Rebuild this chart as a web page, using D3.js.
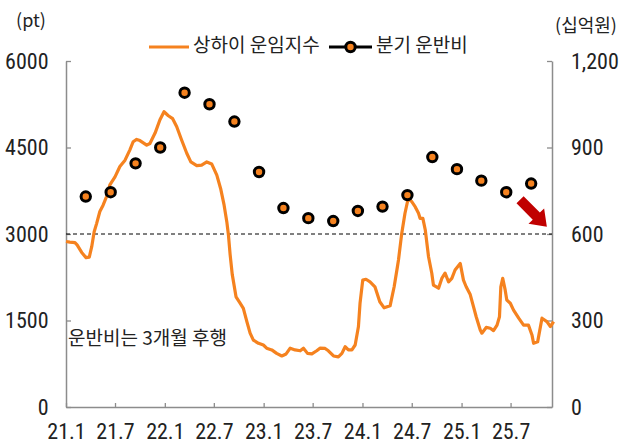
<!DOCTYPE html>
<html>
<head>
<meta charset="utf-8">
<script src="https://cdn.jsdelivr.net/npm/d3@7"></script>
<style>
  body { margin: 0; background: #fff; }
  .num { font-family: 'Liberation Sans Narrow', 'Arial Narrow', 'Roboto Condensed', 'DejaVu Sans Condensed', sans-serif; font-size: 22px; fill: #222; }
  .kr { font-family: 'Noto Sans CJK KR', 'Noto Sans', sans-serif; fill: #222; }
</style>
</head>
<body>
<svg id="chart" width="619" height="446"></svg>
<script>
// 상하이 운임지수 (SCFI), pt
var scfiDates = ['2021-01-01','2021-01-15','2021-02-03','2021-02-11','2021-02-28','2021-03-16','2021-03-28','2021-04-06','2021-04-15','2021-04-24',
  '2021-05-06','2021-05-18','2021-05-31','2021-06-12','2021-07-01','2021-07-19','2021-08-07','2021-08-25','2021-09-06','2021-09-19',
  '2021-10-01','2021-10-26','2021-11-07','2021-11-26','2021-12-14','2021-12-29','2022-01-14','2022-01-30','2022-02-14','2022-03-04',
  '2022-03-23','2022-04-07','2022-04-29','2022-05-17','2022-06-05','2022-06-23','2022-07-12','2022-07-26','2022-08-08','2022-08-18',
  '2022-08-24','2022-08-30','2022-09-07','2022-09-21','2022-10-06','2022-10-18','2022-10-31','2022-11-12','2022-11-24','2022-12-13',
  '2022-12-31','2023-01-12','2023-01-31','2023-02-18','2023-03-09','2023-03-25','2023-04-09','2023-04-27','2023-05-16','2023-05-28',
  '2023-06-12','2023-06-28','2023-07-16','2023-07-28','2023-08-16','2023-08-28','2023-09-16','2023-10-04','2023-10-17','2023-10-29',
  '2023-11-10','2023-11-23','2023-12-05','2023-12-17','2023-12-23','2024-01-02','2024-01-14','2024-01-29','2024-02-16','2024-03-05',
  '2024-03-21','2024-04-12','2024-04-27','2024-05-09','2024-05-13','2024-05-25','2024-06-06','2024-06-18','2024-07-01','2024-07-14',
  '2024-07-26','2024-08-01','2024-08-11','2024-08-20','2024-09-01','2024-09-13','2024-09-19','2024-10-08','2024-10-20','2024-11-01',
  '2024-11-14','2024-11-26','2024-12-08','2024-12-27','2025-01-08','2025-01-18','2025-02-02','2025-02-14','2025-02-24','2025-03-11',
  '2025-03-17','2025-04-02','2025-04-17','2025-04-29','2025-05-12','2025-05-21','2025-05-26','2025-06-02','2025-06-11','2025-06-17',
  '2025-06-30','2025-07-12','2025-07-31','2025-08-18','2025-09-05','2025-09-18','2025-09-24','2025-10-09','2025-10-25','2025-11-12',
  '2025-11-25','2025-12-07'];
var scfiValues = [2870,2860,2850,2810,2680,2590,2600,2780,3040,3180,
  3390,3500,3650,3850,3990,4170,4280,4460,4600,4640,
  4620,4540,4570,4750,4980,5120,5050,5000,4860,4630,
  4400,4250,4185,4195,4250,4215,4020,3790,3500,3210,
  2980,2650,2300,1910,1800,1710,1480,1280,1160,1105,
  1075,1020,990,930,885,920,1020,990,975,1020,
  930,920,975,1020,1015,975,885,870,930,1045,
  990,990,1075,1390,1800,2200,2215,2170,2085,1825,
  1720,1755,2085,2430,2550,3010,3360,3620,3560,3470,
  3360,3270,3270,3070,2605,2320,2115,2060,2230,2320,
  2170,2230,2375,2490,2200,2085,1950,1740,1565,1335,
  1280,1380,1365,1325,1420,1565,2085,2230,2030,1855,
  1800,1680,1540,1420,1420,1250,1105,1130,1540,1480,
  1395,1480];

// 분기 운반비 (십억원), plotted at quarter-end month
var quarters = ['21.1Q','21.2Q','21.3Q','21.4Q','22.1Q','22.2Q','22.3Q','22.4Q','23.1Q','23.2Q',
  '23.3Q','23.4Q','24.1Q','24.2Q','24.3Q','24.4Q','25.1Q','25.2Q','25.3Q'];
var costValues = [730,745,845,900,1090,1050,990,815,690,655,645,680,695,735,867,825,785,745,775];

var xTickLabels = ['21.1','21.7','22.1','22.7','23.1','23.7','24.1','24.7','25.1','25.7'];
var leftTicks = [0,1500,3000,4500,6000];
var rightTicks = [0,300,600,900,1200];

var ORANGE = '#F5821F', AXIS = '#8c8c8c';
var svg = d3.select('#chart');
var parseDay = d3.timeParse('%Y-%m-%d');

var scfi = scfiDates.map(function(d, i) { return { date: parseDay(d), value: scfiValues[i] }; });
var cost = quarters.map(function(q, i) {
  var yr = 2000 + +q.slice(0, 2), qn = +q.charAt(3);
  return { date: new Date(yr, qn * 3 - 1, 15), value: costValues[i] };
});

var x = d3.scaleTime().domain([new Date(2021, 0, 1), new Date(2025, 11, 1)]).range([66, 552]);
var yL = d3.scaleLinear().domain([0, 6000]).range([407, 61]);
var yR = d3.scaleLinear().domain([0, 1200]).range([407, 61]);

// axes
var xAxis = d3.axisBottom(x)
  .tickValues(xTickLabels.map(function(t) { var p = t.split('.'); return new Date(2000 + +p[0], +p[1] - 1, 1); }))
  .tickFormat(function(d, i) { return xTickLabels[i]; })
  .tickSize(-4).tickSizeOuter(0).tickPadding(16.5);
var lAxis = d3.axisLeft(yL).tickValues(leftTicks).tickFormat(d3.format('d'))
  .tickSize(-5).tickSizeOuter(0).tickPadding(17.5);
var rAxis = d3.axisRight(yR).tickValues(rightTicks).tickFormat(d3.format(','))
  .tickSize(-5).tickSizeOuter(0).tickPadding(19);

function styleAxis(g) {
  g.select('.domain').attr('stroke', AXIS).attr('stroke-width', 1.5);
  g.selectAll('.tick line').attr('stroke', AXIS).attr('stroke-width', 1.3);
  g.selectAll('.tick text').attr('class', 'num').attr('fill', '#222');
  g.attr('font-family', null).attr('font-size', null);
}
svg.append('g').attr('transform', 'translate(0,407)').call(xAxis).call(styleAxis);
svg.append('g').attr('transform', 'translate(66,0)').call(lAxis).call(styleAxis);
svg.append('g').attr('transform', 'translate(552,0)').call(rAxis).call(styleAxis);

// 3000pt reference line
svg.append('line')
  .attr('x1', x.range()[0]).attr('x2', x.range()[1])
  .attr('y1', yL(3000)).attr('y2', yL(3000))
  .attr('stroke', '#000').attr('stroke-width', 1).attr('stroke-dasharray', '4,3');

// SCFI line
var line = d3.line().x(function(d) { return x(d.date); }).y(function(d) { return yL(d.value); });
svg.append('path').datum(scfi).attr('d', line)
  .attr('fill', 'none').attr('stroke', ORANGE).attr('stroke-width', 3.2)
  .attr('stroke-linejoin', 'round');

// quarterly cost dots
svg.append('g').selectAll('circle').data(cost).enter().append('circle')
  .attr('cx', function(d) { return x(d.date); })
  .attr('cy', function(d) { return yR(d.value); })
  .attr('r', 4.7).attr('fill', ORANGE).attr('stroke', '#000').attr('stroke-width', 3);

// downward arrow
var s = [x(new Date(2025, 7, 5)), yR(719)], e = [x(new Date(2025, 10, 12)), yR(625)];
var dx = e[0] - s[0], dy = e[1] - s[1], len = Math.sqrt(dx * dx + dy * dy);
var ux = dx / len, uy = dy / len, nx = -uy, ny = ux;
var hx = e[0] - ux * 15, hy = e[1] - uy * 15;
var arrowPts = [
  [s[0] + nx * 5, s[1] + ny * 5], [hx + nx * 5, hy + ny * 5], [hx + nx * 11, hy + ny * 11], e,
  [hx - nx * 11, hy - ny * 11], [hx - nx * 5, hy - ny * 5], [s[0] - nx * 5, s[1] - ny * 5]];
svg.append('polygon').attr('points', arrowPts.map(function(p) { return p.join(','); }).join(' '))
  .attr('fill', '#C00000');

// unit labels
svg.append('text').attr('class', 'kr').attr('x', 31).attr('y', 27)
  .attr('text-anchor', 'middle').style('font-size', '18px').text('(pt)');
svg.append('text').attr('class', 'kr').attr('x', 586).attr('y', 32)
  .attr('text-anchor', 'middle').style('font-size', '18px').text('(십억원)');

// legend
var leg = svg.append('g');
leg.append('line').attr('x1', 149).attr('x2', 189).attr('y1', 47).attr('y2', 47)
  .attr('stroke', ORANGE).attr('stroke-width', 3);
leg.append('text').attr('class', 'kr').attr('x', 193).attr('y', 52).style('font-size', '19px').text('상하이 운임지수');
leg.append('line').attr('x1', 329).attr('x2', 372).attr('y1', 47).attr('y2', 47)
  .attr('stroke', '#000').attr('stroke-width', 3);
leg.append('circle').attr('cx', 350.5).attr('cy', 47).attr('r', 4.7)
  .attr('fill', ORANGE).attr('stroke', '#000').attr('stroke-width', 3);
leg.append('text').attr('class', 'kr').attr('x', 376).attr('y', 52).style('font-size', '19px').text('분기 운반비');

// annotation
svg.append('text').attr('class', 'kr').attr('x', 68).attr('y', 345)
  .style('font-size', '19px').text('운반비는 3개월 후행');
</script>
</body>
</html>
